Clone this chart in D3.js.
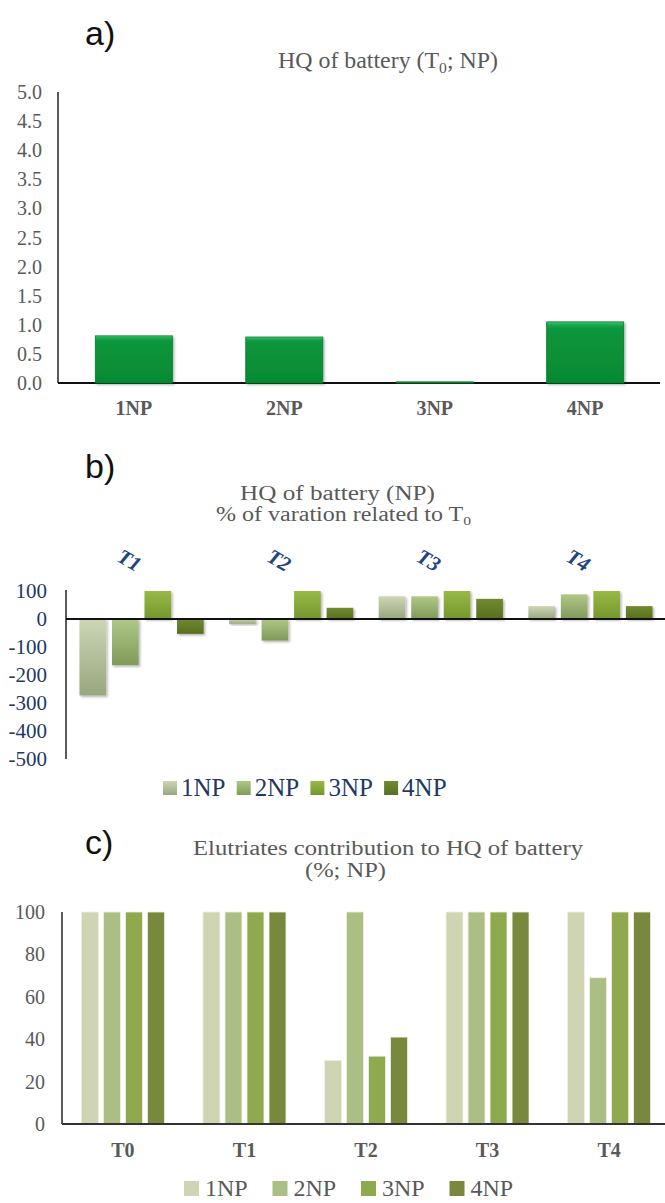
<!DOCTYPE html>
<html>
<head>
<meta charset="utf-8">
<script src="https://cdn.jsdelivr.net/npm/d3@7"></script>
<style>
  html, body { margin: 0; padding: 0; background: #fff; }
  svg { display: block; }
</style>
</head>
<body>
<script>
// ---------- DATA ----------
// Panel a
const aCategories = ["1NP", "2NP", "3NP", "4NP"];
const aValues = [0.81, 0.79, 0.02, 1.05];
const aTicks = [0, 0.5, 1, 1.5, 2, 2.5, 3, 3.5, 4, 4.5, 5];

// Panel b
const bGroups = ["T1", "T2", "T3", "T4"];
const seriesNames = ["1NP", "2NP", "3NP", "4NP"];
const b1NP = [-273, -17, 81, 46];
const b2NP = [-165, -77, 81, 88];
const b3NP = [100, 100, 100, 100];
const b4NP = [-53, 40, 72, 46];
const bTicks = [100, 0, -100, -200, -300, -400, -500];

// Panel c
const cGroups = ["T0", "T1", "T2", "T3", "T4"];
const c1NP = [100, 100, 30, 100, 100];
const c2NP = [100, 100, 100, 100, 69];
const c3NP = [100, 100, 32, 100, 100];
const c4NP = [100, 100, 41, 100, 100];
const cTicks = [0, 20, 40, 60, 80, 100];

// ---------- SETUP ----------
const W = 665, H = 1203;
const svg = d3.select("body").append("svg").attr("width", W).attr("height", H);
const defs = svg.append("defs");
const serif = "Liberation Serif, Times New Roman, serif";
const sans = "Liberation Sans, Arial, sans-serif";
const gray = "#595959";
const navy = "#1f3864";

// gradients
const gA = defs.append("linearGradient").attr("id", "gA").attr("x1", 0).attr("y1", 0).attr("x2", 0).attr("y2", 1);
[["0%", "#46c877"], ["5%", "#1aa74b"], ["12%", "#09963b"], ["100%", "#068a31"]].forEach(s =>
  gA.append("stop").attr("offset", s[0]).attr("stop-color", s[1]));

const bCols = [["#ccd6b6", "#98a77e"], ["#b0c886", "#80995a"], ["#98b946", "#74972d"], ["#728a30", "#586e22"]];
bCols.forEach((c, i) => {
  const g = defs.append("linearGradient").attr("id", "gB" + i).attr("x1", 0).attr("y1", 0).attr("x2", 0).attr("y2", 1);
  g.append("stop").attr("offset", "0%").attr("stop-color", c[0]);
  g.append("stop").attr("offset", "100%").attr("stop-color", c[1]);
});
const cCols = ["#cfd5b2", "#abbf84", "#8faa4e", "#78893d"];

const sh = defs.append("filter").attr("id", "shadow").attr("x", "-20%").attr("y", "-20%").attr("width", "150%").attr("height", "150%");
sh.append("feDropShadow").attr("dx", 1.5).attr("dy", 1.5).attr("stdDeviation", 1.2).attr("flood-color", "#000").attr("flood-opacity", 0.3);

// ---------- PANEL A ----------
svg.append("text").attr("x", 85).attr("y", 45).attr("font-family", sans).attr("font-size", 34).attr("fill", "#111").text("a)");
const tA = svg.append("text").attr("x", 278).attr("y", 68).attr("font-family", serif).attr("font-size", 23).attr("fill", gray)
  .attr("textLength", 220).attr("lengthAdjust", "spacingAndGlyphs");
tA.append("tspan").text("HQ of battery (T");
tA.append("tspan").attr("font-size", 15).attr("dy", 5).text("0");
tA.append("tspan").attr("dy", -5).text("; NP)");

const xA = d3.scaleBand().domain(aCategories).range([58, 661]).paddingInner(0.488).paddingOuter(0.248);
const yA = d3.scaleLinear().domain([0, 5]).range([383, 92]);

const gAax = svg.append("g");
gAax.append("line").attr("x1", 58).attr("x2", 58).attr("y1", yA(5)).attr("y2", yA(0)).attr("stroke", "#222").attr("stroke-width", 1.5);
gAax.selectAll("text.ty").data(aTicks).join("text")
  .attr("x", 42).attr("y", d => yA(d)).attr("dy", "0.35em").attr("text-anchor", "end")
  .attr("font-family", serif).attr("font-size", 20).attr("fill", gray).text(d => d3.format(".1f")(d));

svg.append("g").selectAll("rect").data(aValues).join("rect")
  .attr("x", (d, i) => xA(aCategories[i])).attr("width", xA.bandwidth())
  .attr("y", d => yA(d)).attr("height", d => yA(0) - yA(d))
  .attr("fill", "url(#gA)").attr("stroke", "#067a2c").attr("stroke-width", 0.8)
  .attr("filter", "url(#shadow)");

gAax.append("line").attr("x1", 58).attr("x2", 660).attr("y1", yA(0)).attr("y2", yA(0)).attr("stroke", "#111").attr("stroke-width", 2);
svg.append("g").selectAll("text").data(aCategories).join("text")
  .attr("x", d => xA(d) + xA.bandwidth() / 2).attr("y", 415).attr("text-anchor", "middle")
  .attr("font-family", serif).attr("font-weight", "bold").attr("font-size", 20).attr("fill", gray).text(d => d);

// ---------- PANEL B ----------
svg.append("text").attr("x", 85).attr("y", 478).attr("font-family", sans).attr("font-size", 34).attr("fill", "#111").text("b)");
svg.append("text").attr("x", 240).attr("y", 500).attr("font-family", serif).attr("font-size", 20).attr("fill", gray)
  .attr("textLength", 195).attr("lengthAdjust", "spacingAndGlyphs").text("HQ of battery (NP)");
const tB2 = svg.append("text").attr("x", 216).attr("y", 521).attr("font-family", serif).attr("font-size", 20).attr("fill", gray)
  .attr("textLength", 255).attr("lengthAdjust", "spacingAndGlyphs");
tB2.append("tspan").text("% of varation related to T");
tB2.append("tspan").attr("font-size", 13).attr("dy", 4).text("0");

const bData = [b1NP, b2NP, b3NP, b4NP];
const xB = d3.scaleBand().domain(bGroups).range([66, 666]).paddingInner(0.17).paddingOuter(0.09);
const xBi = d3.scaleBand().domain(seriesNames).range([0, xB.bandwidth()]).paddingInner(0.18).paddingOuter(0);
const yB = d3.scaleLinear().domain([-500, 100]).range([759, 591]);

svg.append("line").attr("x1", 66).attr("x2", 66).attr("y1", 590).attr("y2", yB(-500)).attr("stroke", "#222").attr("stroke-width", 1.5);
svg.append("g").selectAll("text").data(bTicks).join("text")
  .attr("x", 47).attr("y", d => yB(d)).attr("dy", "0.35em").attr("text-anchor", "end")
  .attr("font-family", serif).attr("font-size", 21).attr("fill", navy).text(d => d);

const bBars = svg.append("g");
bGroups.forEach((grp, gi) => {
  seriesNames.forEach((s, si) => {
    const v = bData[si][gi];
    bBars.append("rect")
      .attr("x", xB(grp) + xBi(s)).attr("width", xBi.bandwidth())
      .attr("y", yB(Math.max(0, v))).attr("height", Math.abs(yB(v) - yB(0)))
      .attr("fill", `url(#gB${si})`).attr("filter", "url(#shadow)");
  });
});
svg.append("line").attr("x1", 66).attr("x2", 665).attr("y1", yB(0)).attr("y2", yB(0)).attr("stroke", "#111").attr("stroke-width", 2);

svg.append("g").selectAll("text").data(bGroups).join("text")
  .attr("transform", d => `translate(${xB(d) + xB.bandwidth() / 2 - 12},560) rotate(30)`)
  .attr("text-anchor", "middle").attr("dy", "0.35em")
  .attr("font-family", serif).attr("font-weight", "bold").attr("font-style", "italic").attr("font-size", 21)
  .attr("fill", "#1d4380").text(d => d);

const legB = svg.append("g");
seriesNames.forEach((s, i) => {
  const x0 = 163 + i * 73.7;
  legB.append("rect").attr("x", x0).attr("y", 781).attr("width", 14).attr("height", 14).attr("fill", `url(#gB${i})`);
  legB.append("text").attr("x", x0 + 18).attr("y", 796).attr("font-family", serif).attr("font-size", 25)
    .attr("fill", navy).text(s);
});

// ---------- PANEL C ----------
svg.append("text").attr("x", 85).attr("y", 854).attr("font-family", sans).attr("font-size", 34).attr("fill", "#111").text("c)");
svg.append("text").attr("x", 193).attr("y", 855).attr("font-family", serif).attr("font-size", 20).attr("fill", gray)
  .attr("textLength", 390).attr("lengthAdjust", "spacingAndGlyphs").text("Elutriates contribution to HQ of battery");
svg.append("text").attr("x", 305).attr("y", 877).attr("font-family", serif).attr("font-size", 20).attr("fill", gray)
  .attr("textLength", 81).attr("lengthAdjust", "spacingAndGlyphs").text("(%; NP)");

const cData = [c1NP, c2NP, c3NP, c4NP];
const xC = d3.scaleBand().domain(cGroups).range([62, 670]).paddingInner(0.317).paddingOuter(0.16);
const xCi = d3.scaleBand().domain(seriesNames).range([0, xC.bandwidth()]).paddingInner(0.23).paddingOuter(0);
const yC = d3.scaleLinear().domain([0, 100]).range([1124, 912]);

svg.append("line").attr("x1", 62).attr("x2", 62).attr("y1", yC(100)).attr("y2", yC(0)).attr("stroke", "#222").attr("stroke-width", 1.5);
svg.append("g").selectAll("text").data(cTicks).join("text")
  .attr("x", 45).attr("y", d => yC(d)).attr("dy", "0.35em").attr("text-anchor", "end")
  .attr("font-family", serif).attr("font-size", 20).attr("fill", gray).text(d => d);

const cBars = svg.append("g");
cGroups.forEach((grp, gi) => {
  seriesNames.forEach((s, si) => {
    const v = cData[si][gi];
    cBars.append("rect")
      .attr("x", xC(grp) + xCi(s)).attr("width", xCi.bandwidth())
      .attr("y", yC(v)).attr("height", yC(0) - yC(v))
      .attr("fill", cCols[si]).attr("stroke", "#eef0e4").attr("stroke-width", 0.8);
  });
});
svg.append("line").attr("x1", 62).attr("x2", 665).attr("y1", yC(0)).attr("y2", yC(0)).attr("stroke", "#333").attr("stroke-width", 2);
svg.append("g").selectAll("text").data(cGroups).join("text")
  .attr("x", d => xC(d) + xC.bandwidth() / 2).attr("y", 1157).attr("text-anchor", "middle")
  .attr("font-family", serif).attr("font-weight", "bold").attr("font-size", 20).attr("fill", gray).text(d => d);

const legC = svg.append("g");
seriesNames.forEach((s, i) => {
  const x0 = 184 + i * 88.5;
  legC.append("rect").attr("x", x0).attr("y", 1181).attr("width", 15).attr("height", 15).attr("fill", cCols[i]);
  legC.append("text").attr("x", x0 + 21).attr("y", 1196).attr("font-family", serif).attr("font-size", 24)
    .attr("fill", gray).text(s);
});
</script>
</body>
</html>
